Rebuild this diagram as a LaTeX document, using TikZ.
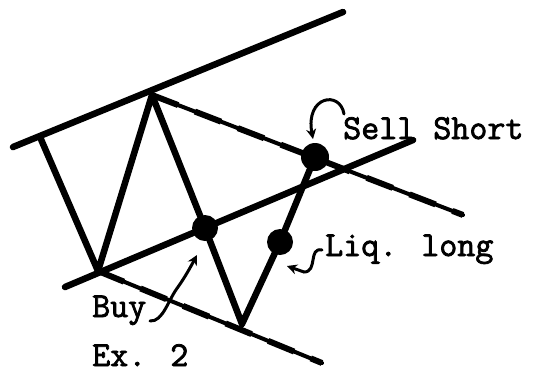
\documentclass[tikz,border=0pt]{standalone}
\usepackage{fontspec}
\newfontfamily\typew{Latin Modern Mono}[FakeBold=2.2]
\usetikzlibrary{arrows.meta}
\begin{document}
\begin{tikzpicture}[x=1pt,y=-1pt,
  heavy/.style={line width=6.5pt,line cap=round,line join=round},
  channel/.style={line width=4pt,line cap=round},
  channelbits/.style={line width=6pt,dash pattern=on 28pt off 18pt},
  dot/.style={circle,fill=black,inner sep=0pt,minimum size=26pt},
  lbl/.style={inner sep=0pt,anchor=base west,font=\typew\fontsize{35}{35}\selectfont},
  pointer/.style={line width=3pt,line cap=round,-{Stealth[length=10pt,width=10pt]}}]
\useasboundingbox (0,0) rectangle (537,373);
% points
\coordinate (tl) at (13,147);
\coordinate (tr) at (343,12);
\coordinate (a) at (40,137);
\coordinate (b) at (98,271);
\coordinate (peak) at (152,95);
\coordinate (v) at (242,324);
\coordinate (ml) at (65,287);
\coordinate (mr) at (413,140);
\coordinate (ur) at (463,215);
\coordinate (lr) at (322,363);
\node[dot] (buy) at (205,228) {};
\node[dot] (liq) at (280,242) {};
\node[dot,minimum width=28pt,minimum height=24pt] (sell) at (315,157) {};
% channel lines
\draw[channel] (peak) -- (ur);
\draw[channelbits] (peak) -- (ur);
\draw[channel] (b) -- (lr);
\draw[channelbits] (b) -- (lr);
\draw[heavy] (tl) -- (tr);
\draw[heavy] (ml) -- (mr);
% price path
\draw[heavy] (a) -- (b) -- (peak) -- (buy.center) -- (v) -- (liq.center) -- (sell.center);
% labels
\node[lbl] (sellt) at (343,139) {Sell Short};
\node[lbl] (liqt) at (325,256) {Liq. long};
\node[lbl] (buyt) at (92,317) {Buy};
\node[lbl] (ex) at (92,366) {Ex. 2};
% pointers
\coordinate (sa) at (344,114);
\coordinate (sb) at (313,139);
\draw[pointer] (sa) .. controls (340,90) and (305,96) .. (sb);
\coordinate (ba) at (150,321);
\coordinate (bb) at (197,255);
\draw[pointer] (ba) .. controls (163,322) and (168,300) .. (178,287) .. controls (185,277) and (190,268) .. (bb);
\coordinate (la) at (322,250);
\coordinate (lb) at (287,266);
\draw[pointer] (la) .. controls (308,247) and (318,272) .. (304,272) -- (lb);
\end{tikzpicture}
\end{document}
